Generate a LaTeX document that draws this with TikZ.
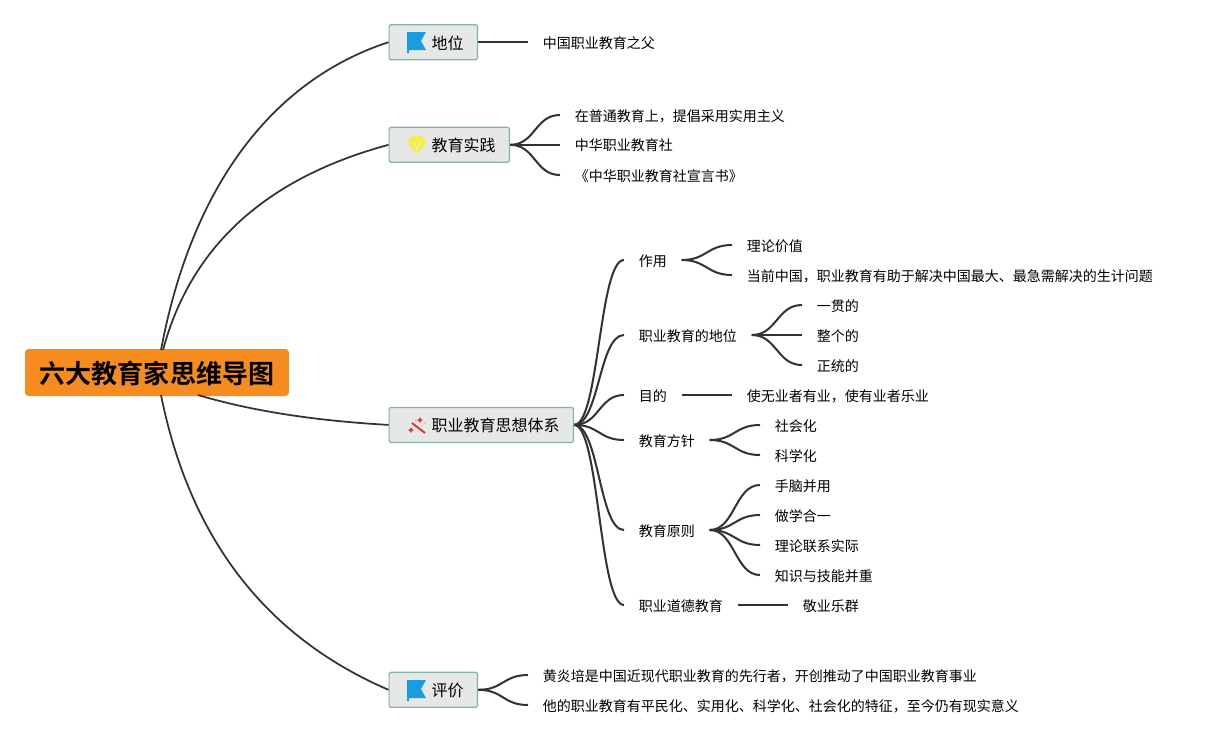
\documentclass[tikz,border=0pt]{standalone}
\usepackage{fontspec}
\setmainfont[BoldFont={Noto Sans CJK SC Bold}]{Noto Sans CJK SC}
\usetikzlibrary{positioning}
\definecolor{rootfill}{HTML}{F68B1F}
\definecolor{topicfill}{HTML}{E6E8E7}
\definecolor{topicline}{HTML}{86B3A6}
\definecolor{linkcol}{HTML}{333333}
\definecolor{flagblue}{HTML}{1B9BE0}
\definecolor{gemyellow}{HTML}{F5EC50}
\definecolor{wandred}{HTML}{D8392E}
\newcommand{\iconspace}{\hspace*{0.57cm}}
\newcommand{\flagicon}[2]{%
  \fill[flagblue, shift={(#1,#2)}] (0,0) -- (19,0) -- (14,9) -- (19,18) -- (2,18) -- (2,21) -- (0,21) -- cycle;}
\newcommand{\gemicon}[2]{%
  \fill[gemyellow, shift={(#1,#2)}, rounded corners=1pt] (3,0) -- (15,0) -- (18,5) -- (18,8) -- (9,18) -- (0,8) -- (0,5) -- cycle;
  \draw[white, line width=0.2pt, shift={(#1,#2)}] (6,6) -- (9,14) -- (12,6);}
\newcommand{\wandicon}[2]{%
  \draw[wandred, line width=1.1pt, shift={(#1,#2)}] (4,5) -- (17,15);
  \fill[wandred, shift={(#1,#2)}] (12,-1) -- (13,1) -- (15,2) -- (13,3) -- (12,5) -- (11,3) -- (9,2) -- (11,1) -- cycle
    (3,9) -- (4,11) -- (6,12) -- (4,13) -- (3,15) -- (2,13) -- (0,12) -- (2,11) -- cycle
    (17,5) circle (0.7) (8,3) circle (0.7);}
\begin{document}
\begin{tikzpicture}[
    x=0.02cm, y=-0.02cm,
    root/.style={fill=rootfill, rounded corners=2pt, minimum width=5.28cm, minimum height=0.94cm, inner sep=0pt, text height=14.6pt, text depth=2pt, font=\fontsize{14.8pt}{16pt}\bfseries},
    topic/.style={draw=topicline, fill=topicfill, line width=0.7pt, rounded corners=1.2pt, minimum height=0.7cm, inner xsep=0.28cm, inner ysep=0pt, anchor=west, text height=9.4pt, text depth=1.4pt, font=\fontsize{9.1pt}{11pt}\selectfont},
    leaf/.style={inner xsep=0.29cm, inner ysep=0pt, anchor=west, text height=8.2pt, text depth=1.2pt, font=\fontsize{7.97pt}{10pt}\selectfont},
    link/.style={draw=linkcol, line width=1.15pt},
    rootlink/.style={draw=linkcol, line width=1pt},
    sig/.style={out=0, in=180, distance=0.5cm}
  ]
    \useasboundingbox (0,0) rectangle (1213,745);

    % links from the root are drawn first, the root lies on top
    \coordinate (rootn) at (161,350);
    \coordinate (rootm) at (163,350);
    \coordinate (roots) at (161,395);
    \coordinate (rootr) at (198,395);

    \node[root] (root) at (157,372.5) {六大教育家思维导图};

    \node[topic] (diwei) at (388.5,42.2) {\iconspace 地位};
    \node[topic] (shijian) at (388.5,144.8) {\iconspace 教育实践};
    \node[topic] (tixi) at (388.5,424.9) {\iconspace 职业教育思想体系};
    \node[topic] (pingjia) at (388.5,689.8) {\iconspace 评价};

    \flagicon{407}{32}
    \gemicon{408}{136}
    \wandicon{408}{418}
    \flagicon{407}{680}

    \draw[rootlink] (rootn) .. controls (192,185) and (273,80) .. (diwei.west);
    \draw[rootlink] (rootm) .. controls (191,246) and (266,178) .. (shijian.west);
    \draw[rootlink] (rootr) .. controls (255,412) and (320,421) .. (tixi.west);
    \draw[rootlink] (roots) .. controls (190,539) and (266,637) .. (pingjia.west);

    % first level
    \node[leaf] (fu) at (528,42.2) {中国职业教育之父};
    \draw[link] (diwei.east) -- (fu.west);

    \node[leaf] (s1) at (560,115) {在普通教育上，提倡采用实用主义};
    \node[leaf] (s2) at (560,144.8) {中华职业教育社};
    \node[leaf] (s3) at (560,175) {《中华职业教育社宣言书》};
    \foreach \t in {s1,s2,s3}
      \draw[link] (shijian.east) to[sig] (\t.west);

    \node[leaf] (p1) at (528,675) {黄炎培是中国近现代职业教育的先行者，开创推动了中国职业教育事业};
    \node[leaf] (p2) at (528,705) {他的职业教育有平民化、实用化、科学化、社会化的特征，至今仍有现实意义};
    \foreach \t in {p1,p2}
      \draw[link] (pingjia.east) to[sig] (\t.west);

    \node[leaf] (zuoyong) at (624,260) {作用};
    \node[leaf] (zhidiwei) at (624,335) {职业教育的地位};
    \node[leaf] (mudi) at (624,395) {目的};
    \node[leaf] (fangzhen) at (624,440) {教育方针};
    \node[leaf] (yuanze) at (624,530) {教育原则};
    \node[leaf] (daode) at (624,605) {职业道德教育};
    \foreach \t in {zuoyong,zhidiwei,mudi,fangzhen,yuanze,daode}
      \draw[link] (tixi.east) to[sig] (\t.west);

    % second level
    \node[leaf] (z1) at (732,245) {理论价值};
    \node[leaf] (z2) at (732,275) {当前中国，职业教育有助于解决中国最大、最急需解决的生计问题};
    \foreach \t in {z1,z2}
      \draw[link] (zuoyong.east) to[sig] (\t.west);

    \node[leaf] (d1) at (802,305) {一贯的};
    \node[leaf] (d2) at (802,335) {整个的};
    \node[leaf] (d3) at (802,365) {正统的};
    \foreach \t in {d1,d2,d3}
      \draw[link] (zhidiwei.east) to[sig] (\t.west);

    \node[leaf] (m1) at (732,395) {使无业者有业，使有业者乐业};
    \draw[link] (mudi.east) -- (m1.west);

    \node[leaf] (f1) at (760,425) {社会化};
    \node[leaf] (f2) at (760,455) {科学化};
    \foreach \t in {f1,f2}
      \draw[link] (fangzhen.east) to[sig] (\t.west);

    \node[leaf] (y1) at (760,485) {手脑并用};
    \node[leaf] (y2) at (760,515) {做学合一};
    \node[leaf] (y3) at (760,545) {理论联系实际};
    \node[leaf] (y4) at (760,575) {知识与技能并重};
    \foreach \t in {y1,y2,y3,y4}
      \draw[link] (yuanze.east) to[sig] (\t.west);

    \node[leaf] (j1) at (788,605) {敬业乐群};
    \draw[link] (daode.east) -- (j1.west);
  \end{tikzpicture}
\end{document}
